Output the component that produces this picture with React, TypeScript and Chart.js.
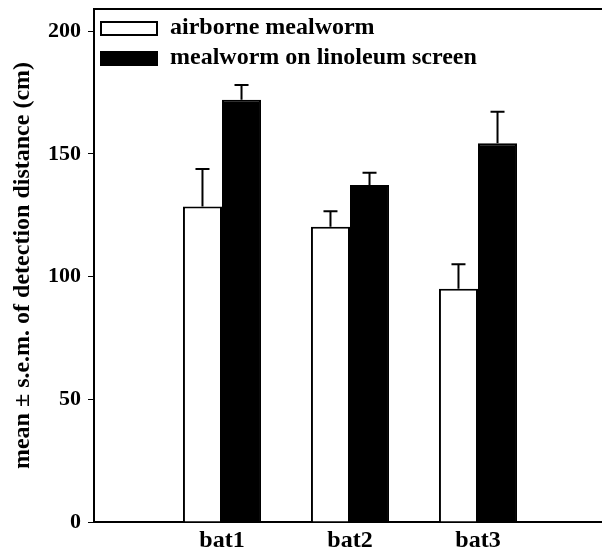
import React, { useEffect, useRef } from "react";
import { Chart, registerables } from "chart.js";

Chart.register(...registerables);

const categories = ["bat1", "bat2", "bat3"];
const seriesNames = ["airborne mealworm", "mealworm on linoleum screen"];
const airborneMeans = [128.5, 120.3, 95.0];
const airborneSem = [15.3, 6.3, 10.0];
const linoleumMeans = [172.0, 137.3, 154.3];
const linoleumSem = [6.0, 5.0, 12.8];
const yTicks = [0, 50, 100, 150, 200];
const yMax = 209;

const FONT = "'Liberation Serif', 'Times New Roman', serif";

const errorBarPlugin = {
  id: "errorBars",
  afterDatasetsDraw(chart: any) {
    const ctx = chart.ctx;
    const yScale = chart.scales.y;
    chart.data.datasets.forEach((ds: any, di: number) => {
      const meta = chart.getDatasetMeta(di);
      const errs: (number | null)[] = ds.errors || [];
      meta.data.forEach((bar: any, i: number) => {
        const v = ds.data[i];
        const e = errs[i];
        if (v == null || e == null) return;
        const x = bar.x;
        const yTop = yScale.getPixelForValue(v + e);
        const yBar = yScale.getPixelForValue(v);
        ctx.save();
        ctx.strokeStyle = "#000";
        ctx.lineWidth = 2;
        ctx.beginPath();
        ctx.moveTo(x, yBar);
        ctx.lineTo(x, yTop);
        ctx.moveTo(x - 7, yTop);
        ctx.lineTo(x + 7, yTop);
        ctx.stroke();
        ctx.restore();
      });
    });
  },
};

const framePlugin = {
  id: "frameAndLegend",
  afterDraw(chart: any) {
    const ctx = chart.ctx;
    const { left, right, top } = chart.chartArea;
    ctx.save();
    ctx.strokeStyle = "#000";
    ctx.lineWidth = 2;
    ctx.beginPath();
    ctx.moveTo(left, top);
    ctx.lineTo(right + 5, top);
    ctx.stroke();

    // legend inside plot area
    const boxX = left + 7;
    const boxW = 56;
    const boxH = 13;
    const rowY = [top + 13, top + 43];
    const baseY = [top + 25, top + 54.5];
    chart.data.datasets.forEach((ds: any, i: number) => {
      ctx.fillStyle = ds.backgroundColor;
      ctx.fillRect(boxX, rowY[i], boxW, boxH);
      ctx.lineWidth = 2;
      ctx.strokeStyle = "#000";
      ctx.strokeRect(boxX, rowY[i], boxW, boxH);
      ctx.fillStyle = "#000";
      ctx.font = `bold 24px ${FONT}`;
      ctx.textAlign = "left";
      ctx.textBaseline = "alphabetic";
      ctx.fillText(ds.label, boxX + 69, baseY[i]);
    });
    ctx.restore();
  },
};

export default function App() {
  const canvasRef = useRef<HTMLCanvasElement | null>(null);

  useEffect(() => {
    if (!canvasRef.current) return;
    const labels = ["", ...categories, ""];
    const pad = (arr: number[]) => [null, ...arr, null];
    const chart = new Chart(canvasRef.current, {
      type: "bar",
      data: {
        labels,
        datasets: [
          {
            label: seriesNames[0],
            data: pad(airborneMeans) as any,
            errors: pad(airborneSem),
            backgroundColor: "#ffffff",
            borderColor: "#000000",
            borderWidth: 2,
            categoryPercentage: 0.61,
            barPercentage: 1.0,
          } as any,
          {
            label: seriesNames[1],
            data: pad(linoleumMeans) as any,
            errors: pad(linoleumSem),
            backgroundColor: "#000000",
            borderColor: "#000000",
            borderWidth: 2,
            categoryPercentage: 0.61,
            barPercentage: 1.0,
          } as any,
        ],
      },
      options: {
        animation: false,
        responsive: false,
        maintainAspectRatio: false,
        layout: { padding: { left: 0, right: 1, top: 9, bottom: 0 } },
        plugins: {
          legend: { display: false },
          tooltip: { enabled: false },
        },
        scales: {
          x: {
            offset: false,
            grid: { display: false, drawTicks: false },
            border: { display: true, color: "#000", width: 2 },
            ticks: {
              color: "#000",
              font: { family: FONT, size: 24, weight: "bold" },
              padding: 4,
              autoSkip: false,
              maxRotation: 0,
            },
            afterFit(scale: any) {
              scale.height = 28;
              scale.paddingLeft = 0;
              scale.paddingRight = 0;
            },
          },
          y: {
            min: 0,
            max: yMax,
            afterBuildTicks(scale: any) {
              scale.ticks = yTicks.map((v) => ({ value: v }));
            },
            afterFit(scale: any) {
              scale.width = 94;
              scale.paddingTop = 0;
              scale.paddingBottom = 0;
            },
            grid: {
              display: true,
              drawOnChartArea: false,
              drawTicks: true,
              tickLength: 6,
              tickColor: "#000",
              tickWidth: 1,
            },
            border: { display: true, color: "#000", width: 2 },
            ticks: {
              color: "#000",
              font: { family: FONT, size: 22, weight: "bold" },
              padding: 7,
            },
            title: {
              display: true,
              text: "mean \u00b1 s.e.m. of detection distance (cm)",
              color: "#000",
              font: { family: FONT, size: 24, weight: "bold" },
              padding: { top: 8, bottom: 0 },
            },
          },
        },
      },
      plugins: [errorBarPlugin, framePlugin],
    });
    return () => chart.destroy();
  }, []);

  return (
    <div
      style={{
        position: "fixed",
        left: 0,
        top: 0,
        width: 602,
        height: 550,
        overflow: "hidden",
        background: "#fff",
      }}
    >
      <canvas ref={canvasRef} width={607} height={550} style={{ display: "block", width: 607, height: 550 }} />
    </div>
  );
}
